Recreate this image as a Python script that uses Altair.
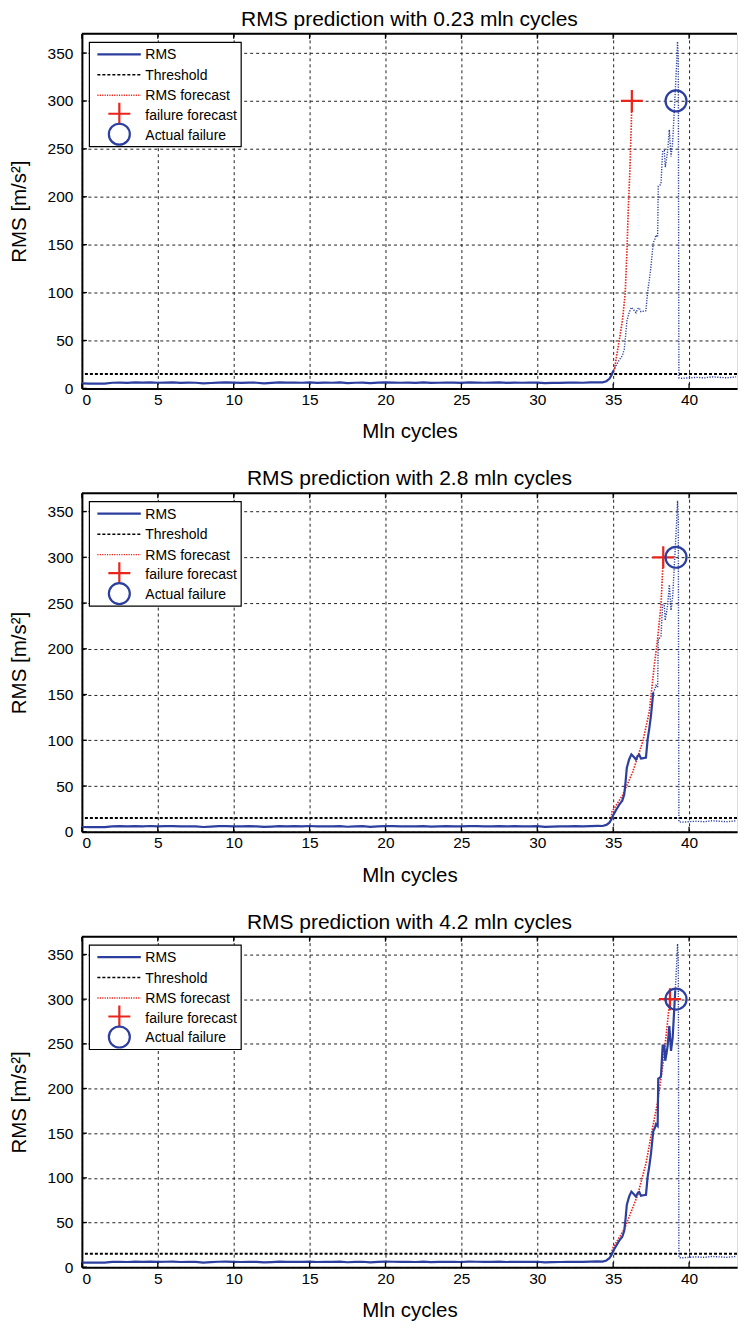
import altair as alt
import pandas as pd

# ---------------- data ----------------
flat_y = [5.2, 5.0, 5.1, 5.0, 5.9, 6.1, 5.8, 6.2, 6.0, 6.3, 5.9, 6.1, 6.2, 5.8, 6.0,
          5.9, 5.2, 5.6, 6.1, 6.2, 6.0, 5.8, 6.1, 5.9, 5.3, 5.7, 6.2, 6.0, 6.1, 5.9,
          6.3, 5.8, 6.0, 5.9, 6.2, 5.5, 5.9, 6.1, 5.4, 6.0, 6.2, 6.1, 5.9, 6.0, 5.8,
          6.2, 5.7, 5.9, 6.1, 6.0, 5.8, 6.2, 6.1, 5.9, 6.0, 6.2, 5.8, 6.1, 5.9, 6.0,
          6.1, 5.4, 5.7, 5.8, 6.0, 6.1, 5.9, 6.2, 6.4]
flat_x = [i * 0.5 for i in range(len(flat_y))]

rise_x = [34.3, 34.55, 34.75, 34.9, 35.02, 35.2, 35.4, 35.6, 35.73, 35.82, 35.9,
          36.05, 36.2, 36.35, 36.5, 36.62, 36.72, 36.83, 37.0, 37.16, 37.27, 37.38,
          37.49, 37.64, 37.75, 37.82, 37.93, 37.97, 38.08, 38.15, 38.26, 38.37,
          38.43, 38.52, 38.59, 38.7, 38.81, 38.92, 39.03, 39.09, 39.17, 39.24,
          39.29, 39.33]
rise_y = [6.3, 7.5, 10, 14, 18.7, 24, 29.7, 34, 40.7, 55, 70,
          79, 84.6, 82, 79, 83, 84, 80, 80.5, 81, 101, 113,
          127, 152, 156, 160, 158, 211, 212, 214, 248, 248,
          231, 240, 248, 270, 242, 257, 291, 310, 335, 362,
          345, 11]

tail_x = [39.5, 40.0, 40.5, 41.0, 41.5, 42.0, 42.5, 43.1]
tail_y = [10.5, 11.0, 11.5, 11.0, 12.0, 11.5, 11.0, 12.0]

rms_x = flat_x + rise_x + tail_x
rms_y = flat_y + rise_y + tail_y

threshold = 15

titles = ["RMS prediction with 0.23 mln cycles",
          "RMS prediction with 2.8 mln cycles",
          "RMS prediction with 4.2 mln cycles"]
cutoffs = [35.02, 37.64, 39.09]

fc1_x = [34.88, 35.07, 35.4, 35.61, 35.79, 35.9, 36.0, 36.1, 36.2, 36.23]
fc1_y = [15, 18.7, 50, 71, 98.6, 140, 189, 227, 279, 300]
fc2_x = [34.88, 34.91, 35.61, 36.28, 36.94, 37.38, 37.71, 37.93, 38.15, 38.3]
fc2_y = [15, 21.5, 39.7, 65, 98, 131, 182, 211, 248, 300]
fc3_x = [34.9, 34.95, 35.73, 36.6, 37.16, 37.53, 37.93, 38.26, 38.48, 38.74]
fc3_y = [15, 20.5, 42.5, 80, 116, 150, 185, 225, 258, 300]
fc_x = [fc1_x, fc2_x, fc3_x]
fc_y = [fc1_y, fc2_y, fc3_y]

cross_x = [36.23, 38.3, 38.74]
cross_y = 300
fail_x = 39.14
fail_y = 300

legend_labels = ["RMS", "Threshold", "RMS forecast", "failure forecast", "Actual failure"]
x_ticks = [0, 5, 10, 15, 20, 25, 30, 35, 40]
y_ticks = [0, 50, 100, 150, 200, 250, 300, 350]

# ---------------- styling ----------------
FONT = "Liberation Sans"
BLUE = "#2c3f9f"
RED = "#e8241c"
W = 656
X_MAX = W / 15.2
heights = [355, 339, 331]

xs = alt.Scale(domain=[0, X_MAX], nice=False, zero=False)
ys = alt.Scale(domain=[0, 370], nice=False)

x_axis = alt.Axis(values=x_ticks, title="Mln cycles", grid=True, gridDash=[3, 3],
                  gridColor="#222222", gridWidth=1, domainColor="black", domainWidth=2,
                  tickSize=0, labelPadding=4, labelFontSize=15.5, labelColor="black",
                  titleFontSize=20.5, titleFontWeight="normal", titleColor="black",
                  titlePadding=14, labelFont=FONT, titleFont=FONT)
y_axis = alt.Axis(values=y_ticks, title="RMS [m/s²]", grid=True, gridDash=[3, 3],
                  gridColor="#222222", gridWidth=1, domainColor="black", domainWidth=2,
                  tickSize=0, labelPadding=9, labelFontSize=15.5, labelColor="black",
                  titleFontSize=20.5, titleFontWeight="normal", titleColor="black",
                  titlePadding=18, labelFont=FONT, titleFont=FONT)


def X(field):
    return alt.X(field, type="quantitative", scale=xs, axis=x_axis)


def Y(field):
    return alt.Y(field, type="quantitative", scale=ys, axis=y_axis)


one = pd.DataFrame({"a": [0]})
xt = pd.DataFrame({"x": x_ticks})
yt = pd.DataFrame({"y": y_ticks})


def panel(i):
    h = heights[i]
    cut = cutoffs[i]
    full = pd.DataFrame({"x": rms_x, "y": rms_y})
    dotted = full[full["x"] >= cut]
    solid = full[full["x"] <= cut]
    fc = pd.DataFrame({"x": fc_x[i], "y": fc_y[i]})
    cr = pd.DataFrame({"x": [cross_x[i]], "y": [cross_y]})
    fl = pd.DataFrame({"x": [fail_x], "y": [fail_y]})
    th = pd.DataFrame({"y": [threshold]})

    top = alt.Chart(one).mark_rule(color="black", strokeWidth=2).encode(
        x=alt.value(0), x2=alt.value(W), y=alt.value(0))
    # inward tick marks (top, bottom, left)
    tk_top = alt.Chart(xt).mark_rule(color="black", strokeWidth=1.3).encode(
        x=X("x"), y=alt.value(0), y2=alt.value(5))
    tk_bot = alt.Chart(xt).mark_rule(color="black", strokeWidth=1.3).encode(
        x=X("x"), y=alt.value(h - 5), y2=alt.value(h))
    tk_left = alt.Chart(yt).mark_rule(color="black", strokeWidth=1.3).encode(
        y=Y("y"), x=alt.value(0), x2=alt.value(5))
    thr = alt.Chart(th).mark_rule(color="black", strokeWidth=2, strokeDash=[3, 2]).encode(y=Y("y"))
    dot = alt.Chart(dotted).mark_line(color=BLUE, strokeWidth=1.4, strokeDash=[1.2, 1.4],
                                      clip=True).encode(x=X("x"), y=Y("y"))
    fcl = alt.Chart(fc).mark_line(color=RED, strokeWidth=1.7, strokeDash=[1.5, 1.3],
                                  clip=True).encode(x=X("x"), y=Y("y"))
    sol = alt.Chart(solid).mark_line(color=BLUE, strokeWidth=2.2, clip=True).encode(
        x=X("x"), y=Y("y"))
    crs = alt.Chart(cr).mark_point(shape="M-1,0L1,0M0,-1L0,1", filled=False, color=RED,
                                   strokeWidth=2.2, size=484, opacity=1).encode(x=X("x"), y=Y("y"))
    cir = alt.Chart(fl).mark_point(shape="circle", filled=False, color=BLUE,
                                   strokeWidth=2.2, size=441, opacity=1).encode(x=X("x"), y=Y("y"))

    # legend box
    lx0, lx1, ly0, ly1 = 7.5, 159.5, 8.5, 113
    box = alt.Chart(one).mark_rect(fill="white", stroke="black", strokeWidth=1.2).encode(
        x=alt.value(lx0), x2=alt.value(lx1), y=alt.value(ly0), y2=alt.value(ly1))
    l1 = alt.Chart(one).mark_rule(color=BLUE, strokeWidth=2.2).encode(
        x=alt.value(15.5), x2=alt.value(59), y=alt.value(20.5))
    l2 = alt.Chart(one).mark_rule(color="black", strokeWidth=1.6, strokeDash=[3, 2]).encode(
        x=alt.value(15.5), x2=alt.value(59), y=alt.value(41))
    l3 = alt.Chart(one).mark_rule(color=RED, strokeWidth=1.4, strokeDash=[1.2, 1.2]).encode(
        x=alt.value(15.5), x2=alt.value(59), y=alt.value(61.5))
    l4 = alt.Chart(one).mark_point(shape="M-1,0L1,0M0,-1L0,1", filled=False, color=RED,
                                   strokeWidth=2.2, size=484, opacity=1).encode(
        x=alt.value(37.5), y=alt.value(80))
    l5 = alt.Chart(one).mark_point(shape="circle", filled=False, color=BLUE,
                                   strokeWidth=2.2, size=441, opacity=1).encode(
        x=alt.value(37.5), y=alt.value(100.5))
    texts = []
    for lab, ty in zip(legend_labels, [21.5, 42, 62.5, 82, 102]):
        texts.append(alt.Chart(one).mark_text(text=lab, align="left", baseline="middle",
                                              fontSize=14, font=FONT, color="black").encode(
            x=alt.value(63.5), y=alt.value(ty)))

    layers = [thr, dot, fcl, sol, crs, cir, top, tk_top, tk_bot, tk_left,
              box, l1, l2, l3, l4, l5] + texts
    return alt.layer(*layers).properties(
        width=W, height=h,
        title=alt.TitleParams(titles[i], fontSize=21, font=FONT, fontWeight="normal",
                              anchor="middle", offset=3, color="black"))


chart = alt.vconcat(panel(0), panel(1), panel(2), spacing=24).properties(
    padding={"left": 0, "top": -1, "right": 0, "bottom": 0}
).configure_view(stroke=None).configure(font=FONT)

chart.save("out.html", embed_options={"renderer": "svg", "actions": False})
